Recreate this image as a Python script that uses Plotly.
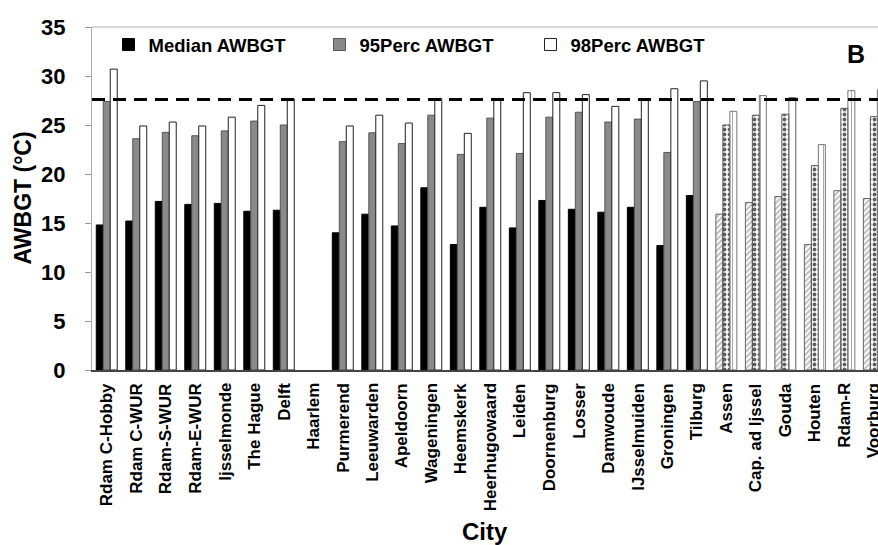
import plotly.graph_objects as go

cities = ["Rdam C-Hobby", "Rdam C-WUR", "Rdam-S-WUR", "Rdam-E-WUR", "Ijsselmonde",
          "The Hague", "Delft", "Haarlem", "Purmerend", "Leeuwarden", "Apeldoorn",
          "Wageningen", "Heemskerk", "Heerhugowaard", "Leiden", "Doornenburg", "Losser",
          "Damwoude", "IJsselmuiden", "Groningen", "Tilburg", "Assen", "Cap. ad Ijssel",
          "Gouda", "Houten", "Rdam-R", "Voorburg"]

median_awbgt = [14.8, 15.2, 17.2, 16.9, 17.0, 16.2, 16.3, None, 14.0, 15.9, 14.7,
                18.6, 12.8, 16.6, 14.5, 17.3, 16.4, 16.1, 16.6, 12.7, 17.8,
                15.9, 17.1, 17.7, 12.8, 18.3, 17.5]
p95_awbgt = [27.4, 23.6, 24.25, 23.9, 24.4, 25.4, 25.0, None, 23.3, 24.2, 23.1,
             26.0, 22.0, 25.7, 22.1, 25.8, 26.3, 25.3, 25.6, 22.2, 27.4,
             25.0, 26.0, 26.1, 20.85, 26.7, 25.85]
p98_awbgt = [30.7, 24.9, 25.3, 24.9, 25.8, 27.0, 27.65, None, 24.9, 26.0, 25.2,
             27.7, 24.15, 27.7, 28.3, 28.3, 28.1, 26.9, 27.7, 28.7, 29.5,
             26.4, 28.0, 27.8, 23.0, 28.5, 28.6]
threshold = 27.6
y_ticks = [0, 5, 10, 15, 20, 25, 30, 35]

n_plain = 21  # cities drawn with solid fills; the rest are patterned
n_pat = len(cities) - n_plain

FONT = "Arial, Liberation Sans, sans-serif"

fig = go.Figure()

fig.add_trace(go.Bar(
    name="Median AWBGT", x=cities, y=median_awbgt,
    marker=dict(
        color=["#000000"] * n_plain + ["#bdbdbd"] * n_pat,
        line=dict(color=["#000000"] * n_plain + ["#666666"] * n_pat, width=1),
        pattern=dict(shape=[""] * n_plain + ["/"] * n_pat,
                     fgcolor="#444444", size=4, solidity=0.5, fillmode="replace"),
    ),
))
fig.add_trace(go.Bar(
    name="95Perc AWBGT", x=cities, y=p95_awbgt,
    marker=dict(
        color=["#8a8a8a"] * n_plain + ["#5e5e5e"] * n_pat,
        line=dict(color="#555555", width=1),
        pattern=dict(shape=[""] * n_plain + ["."] * n_pat,
                     fgcolor="#ffffff", size=5, solidity=0.45, fillmode="replace"),
    ),
))
fig.add_trace(go.Bar(
    name="98Perc AWBGT", x=cities, y=p98_awbgt,
    marker=dict(
        color="#ffffff",
        line=dict(color=["#222222"] * n_plain + ["#777777"] * n_pat, width=1),
        pattern=dict(shape=[""] * n_plain + ["|"] * n_pat,
                     fgcolor="#999999", size=7, solidity=0.12, fillmode="replace"),
    ),
))

# threshold dashed line
fig.add_shape(type="line", xref="paper", x0=0, x1=1, yref="y", y0=threshold, y1=threshold,
              line=dict(color="#000000", width=3, dash="13px,8px"))
# top border of plot area
fig.add_shape(type="line", xref="paper", x0=0, x1=1, yref="paper", y0=1, y1=1,
              line=dict(color="#b0b0b0", width=1))

# category labels, rotated, centred on each category
for c in cities:
    fig.add_annotation(text=c, x=c, xref="x", y=0, yref="paper", yshift=-11,
                       textangle=-90, xanchor="center", yanchor="top", showarrow=False,
                       font=dict(family=FONT, size=17, weight="bold", color="#000000"))

fig.add_annotation(text="<b>City</b>", xref="paper", yref="paper", x=0.5, y=0, yshift=-161,
                   xanchor="center", yanchor="middle", showarrow=False,
                   font=dict(family=FONT, size=24, color="#000000"))

fig.add_annotation(text="<b>AWBGT (°C)</b>", xref="paper", yref="paper", x=0, xshift=-70, y=0.5,
                   textangle=-90, xanchor="center", yanchor="middle", showarrow=False,
                   font=dict(family=FONT, size=23, color="#000000"))

fig.add_annotation(text="<b>B</b>", xref="paper", yref="paper", x=(856 - 92) / 786, y=(370 - 54) / 343,
                   xanchor="center", yanchor="middle", showarrow=False,
                   font=dict(family=FONT, size=25, color="#000000"))

fig.update_layout(
    width=878, height=545,
    margin=dict(l=92, r=0, t=27, b=175),
    plot_bgcolor="#ffffff", paper_bgcolor="#ffffff",
    barmode="group", bargap=0.29, bargroupgap=0,
    font=dict(family=FONT, color="#000000"),
    showlegend=True,
    legend=dict(orientation="h", x=0.021, xanchor="left", y=(370 - 45) / 343, yanchor="middle",
                bgcolor="rgba(0,0,0,0)", borderwidth=0,
                font=dict(family=FONT, size=18.5, weight="bold", color="#000000"),
                entrywidth=166, entrywidthmode="pixels", itemwidth=30),
    xaxis=dict(
        type="category", range=[-0.5, 26.14],
        showticklabels=False, ticks="",
        showline=True, linecolor="#444444", linewidth=1.5, showgrid=False,
    ),
    yaxis=dict(
        range=[0, 35], tickvals=y_ticks, ticks="outside", ticklen=6, tickcolor="#999999",
        tickfont=dict(family=FONT, size=22, weight="bold", color="#000000"),
        showline=True, linecolor="#aaaaaa", linewidth=1, showgrid=False, zeroline=False,
        ticklabelstandoff=15,
    ),
)

fig.write_html("out.html", config={"displayModeBar": False},
               post_script="document.body.style.margin='0';document.body.style.overflow='hidden';")
